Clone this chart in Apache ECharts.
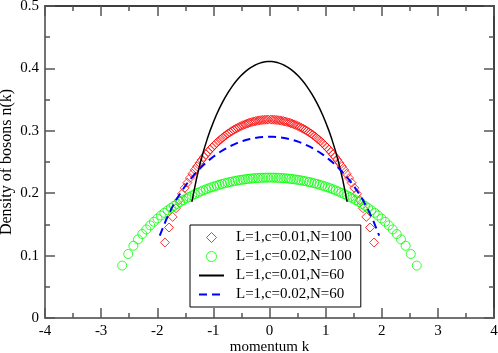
<!DOCTYPE html>
<html>
<head>
<meta charset="utf-8">
<script src="https://cdn.jsdelivr.net/npm/echarts@6/dist/echarts.min.js"></script>
<style>
  html, body { margin: 0; padding: 0; background: #fff; }
  #chart { width: 498px; height: 353px; }
</style>
</head>
<body>
<div id="chart"></div>
<script>
// momentum k / density n(k)
const redK = [-1.863, -1.790, -1.725, -1.666, -1.610, -1.559, -1.510, -1.463, -1.418, -1.374,
  -1.331, -1.289, -1.248, -1.208, -1.169, -1.131, -1.093, -1.056, -1.019, -0.983,
  -0.947, -0.911, -0.876, -0.841, -0.806, -0.772, -0.738, -0.704, -0.670, -0.637,
  -0.604, -0.571, -0.538, -0.505, -0.472, -0.439, -0.407, -0.375, -0.343, -0.311,
  -0.279, -0.247, -0.215, -0.183, -0.151, -0.119, -0.087, -0.055, -0.023,
  0.023, 0.055, 0.087, 0.119, 0.151, 0.183, 0.215, 0.247, 0.279, 0.311,
  0.343, 0.375, 0.407, 0.439, 0.472, 0.505, 0.538, 0.571, 0.604, 0.637,
  0.670, 0.704, 0.738, 0.772, 0.806, 0.841, 0.876, 0.911, 0.947, 0.983,
  1.019, 1.056, 1.093, 1.131, 1.169, 1.208, 1.248, 1.289, 1.331, 1.374,
  1.418, 1.463, 1.510, 1.559, 1.610, 1.666, 1.725, 1.790, 1.863]
const redN = [0.121, 0.145, 0.162, 0.176, 0.189, 0.199, 0.2085, 0.2168, 0.2243, 0.2311,
  0.2374, 0.2431, 0.2485, 0.2534, 0.258, 0.2623, 0.2663, 0.2701, 0.2736, 0.2769,
  0.2801, 0.2831, 0.2859, 0.2885, 0.2911, 0.2934, 0.2956, 0.2977, 0.2996, 0.3015,
  0.3032, 0.3047, 0.3063, 0.3077, 0.309, 0.3102, 0.3114, 0.3123, 0.3133, 0.3141,
  0.3149, 0.3156, 0.3162, 0.3167, 0.3171, 0.3174, 0.3177, 0.3179, 0.318,
  0.318, 0.3179, 0.3177, 0.3174, 0.3171, 0.3167, 0.3162, 0.3156, 0.3149, 0.3141,
  0.3133, 0.3123, 0.3114, 0.3102, 0.309, 0.3077, 0.3063, 0.3047, 0.3032, 0.3015,
  0.2996, 0.2977, 0.2956, 0.2934, 0.2911, 0.2885, 0.2859, 0.2831, 0.2801, 0.2769,
  0.2736, 0.2701, 0.2663, 0.2623, 0.258, 0.2534, 0.2485, 0.2431, 0.2374, 0.2311,
  0.2243, 0.2168, 0.2085, 0.199, 0.189, 0.176, 0.162, 0.145, 0.121]

const greenK = [-2.624, -2.517, -2.425, -2.343, -2.267, -2.195, -2.126, -2.060, -1.996, -1.934,
  -1.874, -1.816, -1.758, -1.702, -1.647, -1.592, -1.539, -1.486, -1.433, -1.382,
  -1.331, -1.280, -1.230, -1.180, -1.131, -1.082, -1.034, -0.986, -0.938, -0.891,
  -0.844, -0.797, -0.750, -0.704, -0.658, -0.612, -0.566, -0.520, -0.475, -0.430,
  -0.385, -0.340, -0.295, -0.250, -0.205, -0.160, -0.115, -0.070, -0.025,
  0.025, 0.070, 0.115, 0.160, 0.205, 0.250, 0.295, 0.340, 0.385, 0.430,
  0.475, 0.520, 0.566, 0.612, 0.658, 0.704, 0.750, 0.797, 0.844, 0.891,
  0.938, 0.986, 1.034, 1.082, 1.131, 1.180, 1.230, 1.280, 1.331, 1.382,
  1.433, 1.486, 1.539, 1.592, 1.647, 1.702, 1.758, 1.816, 1.874, 1.934,
  1.996, 2.060, 2.126, 2.195, 2.267, 2.343, 2.425, 2.517, 2.624]
const greenN = [0.084, 0.1026, 0.1158, 0.126, 0.1346, 0.1419, 0.1484, 0.1542, 0.1594, 0.1642,
  0.1685, 0.1725, 0.1762, 0.1797, 0.1829, 0.186, 0.1888, 0.1915, 0.194, 0.1963,
  0.1985, 0.2006, 0.2026, 0.2045, 0.2062, 0.2079, 0.2095, 0.2109, 0.2123, 0.2136,
  0.2148, 0.2159, 0.217, 0.2179, 0.2188, 0.2197, 0.2205, 0.2212, 0.2218, 0.2224,
  0.2229, 0.2234, 0.2238, 0.2241, 0.2244, 0.2246, 0.2248, 0.2249, 0.225,
  0.225, 0.2249, 0.2248, 0.2246, 0.2244, 0.2241, 0.2238, 0.2234, 0.2229, 0.2224,
  0.2218, 0.2212, 0.2205, 0.2197, 0.2188, 0.2179, 0.217, 0.2159, 0.2148, 0.2136,
  0.2123, 0.2109, 0.2095, 0.2079, 0.2062, 0.2045, 0.2026, 0.2006, 0.1985, 0.1963,
  0.194, 0.1915, 0.1888, 0.186, 0.1829, 0.1797, 0.1762, 0.1725, 0.1685, 0.1642,
  0.1594, 0.1542, 0.1484, 0.1419, 0.1346, 0.126, 0.1158, 0.1026, 0.084]

const blackK = [-1.384, -1.305, -1.234, -1.170, -1.110, -1.053, -0.999, -0.947, -0.897, -0.848,
  -0.800, -0.753, -0.707, -0.662, -0.618, -0.574, -0.531, -0.488, -0.446, -0.404,
  -0.362, -0.321, -0.280, -0.239, -0.198, -0.157, -0.117, -0.076, -0.036,
  0.036, 0.076, 0.117, 0.157, 0.198, 0.239, 0.280, 0.321, 0.362, 0.404,
  0.446, 0.488, 0.531, 0.574, 0.618, 0.662, 0.707, 0.753, 0.800, 0.848,
  0.897, 0.947, 0.999, 1.053, 1.110, 1.170, 1.234, 1.305, 1.384]
const blackN = [0.186, 0.2215, 0.2485, 0.2694, 0.2867, 0.3015, 0.3141, 0.3253, 0.3351, 0.344,
  0.352, 0.3592, 0.3657, 0.3716, 0.3769, 0.3817, 0.3861, 0.3901, 0.3936, 0.3968,
  0.3996, 0.4021, 0.4042, 0.4061, 0.4076, 0.4089, 0.4098, 0.4105, 0.411,
  0.411, 0.4105, 0.4098, 0.4089, 0.4076, 0.4061, 0.4042, 0.4021, 0.3996, 0.3968,
  0.3936, 0.3901, 0.3861, 0.3817, 0.3769, 0.3716, 0.3657, 0.3592, 0.352, 0.344,
  0.3351, 0.3253, 0.3141, 0.3015, 0.2867, 0.2694, 0.2485, 0.2215, 0.186]

const blueK = [-1.955, -1.844, -1.745, -1.654, -1.569, -1.491, -1.416, -1.344, -1.273, -1.205,
  -1.138, -1.072, -1.008, -0.945, -0.882, -0.821, -0.760, -0.700, -0.640, -0.581,
  -0.522, -0.463, -0.405, -0.347, -0.289, -0.232, -0.174, -0.117, -0.060, 0,
  0.060, 0.117, 0.174, 0.232, 0.289, 0.347, 0.405, 0.463, 0.522, 0.581,
  0.640, 0.700, 0.760, 0.821, 0.882, 0.945, 1.008, 1.072, 1.138, 1.205,
  1.273, 1.344, 1.416, 1.491, 1.569, 1.654, 1.745, 1.844, 1.955]
const blueN = [0.132, 0.157, 0.1757, 0.1906, 0.2028, 0.2129, 0.2218, 0.2295, 0.2365, 0.2427,
  0.2483, 0.2534, 0.258, 0.2622, 0.266, 0.2694, 0.2726, 0.2754, 0.2779, 0.2802,
  0.2822, 0.284, 0.2856, 0.2869, 0.2881, 0.289, 0.2897, 0.2902, 0.2905, 0.2906,
  0.2905, 0.2902, 0.2897, 0.289, 0.2881, 0.2869, 0.2856, 0.284, 0.2822, 0.2802,
  0.2779, 0.2754, 0.2726, 0.2694, 0.266, 0.2622, 0.258, 0.2534, 0.2483, 0.2427,
  0.2365, 0.2295, 0.2218, 0.2129, 0.2028, 0.1906, 0.1757, 0.157, 0.132]

const names = ['L=1,c=0.01,N=100', 'L=1,c=0.02,N=100', 'L=1,c=0.01,N=60', 'L=1,c=0.02,N=60']

const zip = (xs, ys) => xs.map((x, i) => [x, ys[i]])
const font = 'Liberation Serif'
const clear = 'rgba(0,0,0,0)'

const chart = echarts.init(document.getElementById('chart'))

// 坐标轴公共配置
function axis(extra) {
  return Object.assign({
    type: 'value',
    nameMoveOverlap: false,
    axisLine: { show: true, onZero: false, lineStyle: { color: '#444', width: 1.5 } },
    axisTick: { show: true, inside: true, length: 10, lineStyle: { color: '#555', width: 1.5 } },
    minorTick: { show: true, splitNumber: 2, length: 5, lineStyle: { color: '#555', width: 1.5 } },
    splitLine: { show: false },
    axisLabel: { color: '#000', fontFamily: font, fontSize: 15 },
  }, extra)
}

const option = {
  animation: false,
  backgroundColor: '#fff',
  grid: { left: 45, right: 4, top: 6, bottom: 35, containLabel: false, outerBoundsMode: 'none' },
  legend: {
    orient: 'vertical',
    left: 190,
    top: 225,
    padding: [5, 9, 5, 8],
    itemWidth: 25,
    itemHeight: 10,
    itemGap: 4,
    symbolKeepAspect: true,
    borderColor: '#000',
    borderWidth: 1,
    textStyle: { fontFamily: font, fontSize: 15, color: '#000', padding: [0, 0, 0, 7] },
    data: [
      { name: names[0], icon: 'path://M5,0L10,5L5,10L0,5Z', itemStyle: { color: clear, borderColor: '#ff0000', borderWidth: 1 } },
      { name: names[1], icon: 'circle', itemStyle: { color: clear, borderColor: '#00ff00', borderWidth: 1 } },
      { name: names[2], itemStyle: { color: clear, borderColor: clear, borderWidth: 0 } },
      { name: names[3], itemStyle: { color: clear, borderColor: clear, borderWidth: 0 } },
    ],
  },
  xAxis: [
    axis({
      min: -4, max: 4, interval: 1,
      name: 'momentum k', nameLocation: 'middle', nameGap: 22,
      nameTextStyle: { fontFamily: font, fontSize: 15, color: '#000' },
      axisLabel: { color: '#000', fontFamily: font, fontSize: 15, margin: 6 },
    }),
    axis({
      min: -4, max: 4, interval: 1, position: 'top',
      axisLine: { show: true, onZero: false, lineStyle: { color: '#000', width: 1.5 } },
      axisLabel: { show: false },
    }),
  ],
  yAxis: [
    axis({
      min: 0, max: 0.5, interval: 0.1,
      name: 'Density of bosons n(k)', nameLocation: 'middle', nameGap: 30,
      nameTextStyle: { fontFamily: font, fontSize: 16, color: '#000' },
      axisLabel: { color: '#000', fontFamily: font, fontSize: 15, margin: 6 },
    }),
    axis({
      min: 0, max: 0.5, interval: 0.1, position: 'right',
      axisLine: { show: true, onZero: false, lineStyle: { color: '#000', width: 1.5 } },
      axisLabel: { show: false },
    }),
  ],
  series: [
    {
      name: names[0], type: 'scatter', symbol: 'diamond', symbolSize: 9,
      itemStyle: { color: clear, borderColor: '#ff0000', borderWidth: 1 },
      data: zip(redK, redN),
    },
    {
      name: names[1], type: 'scatter', symbol: 'circle', symbolSize: 9,
      itemStyle: { color: clear, borderColor: '#00ff00', borderWidth: 1 },
      data: zip(greenK, greenN),
    },
    {
      name: names[2], type: 'line', showSymbol: false, symbol: 'none', smooth: false,
      lineStyle: { color: '#000', width: 1.5 }, itemStyle: { color: '#000' },
      data: zip(blackK, blackN),
    },
    {
      name: names[3], type: 'line', showSymbol: false, symbol: 'none', smooth: false,
      lineStyle: { color: '#0000ff', width: 2, type: [8, 5] }, itemStyle: { color: '#0000ff' },
      data: zip(blueK, blueN),
    },
  ],
}

chart.setOption(option)
</script>
</body>
</html>
